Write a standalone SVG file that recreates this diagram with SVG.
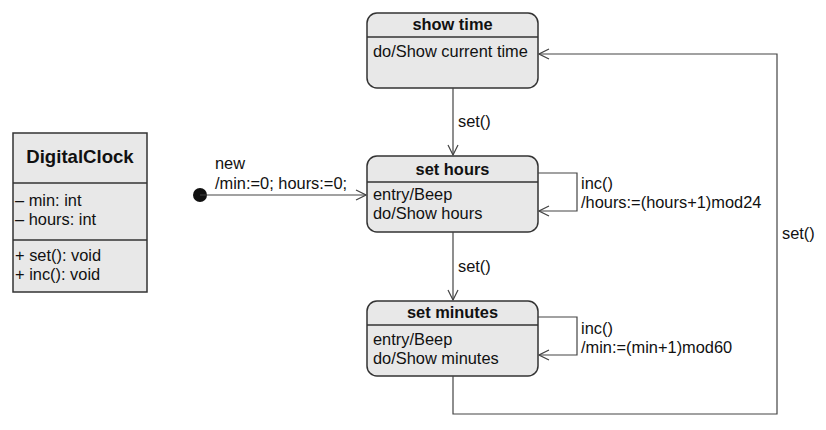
<svg xmlns="http://www.w3.org/2000/svg" width="826" height="430" viewBox="0 0 826 430">
<defs>
<marker id="open" viewBox="0 0 12 12" refX="11" refY="6" markerWidth="12" markerHeight="12" markerUnits="userSpaceOnUse" orient="auto">
<path d="M1,1 L11,6 L1,11" fill="none" stroke="#444" stroke-width="1.2"/>
</marker>
</defs>
<style>
.box{fill:#e8e8e8;stroke:#333;stroke-width:1.5}
.div{stroke:#333;stroke-width:1.5}
.t{font-family:"Liberation Sans",Arial,sans-serif;font-size:16.4px;fill:#111}
.b{font-weight:bold}
.c{text-anchor:middle}
.ln{fill:none;stroke:#444;stroke-width:1.2}
</style>
<rect width="826" height="430" fill="#fff"/>
<g id="class-digitalclock">
<rect class="box" x="13" y="133" width="134" height="159" rx="0"/>
<line class="div" x1="13" y1="183" x2="147" y2="183"/>
<line class="div" x1="13" y1="240" x2="147" y2="240"/>
<text class="t b c" x="80" y="163" style="font-size:18.6px">DigitalClock</text>
<text class="t" x="15" y="206">– min: int</text>
<text class="t" x="15" y="225">– hours: int</text>
<text class="t" x="15" y="261">+ set(): void</text>
<text class="t" x="15" y="280">+ inc(): void</text>
</g>
<g id="initial">
<circle cx="200" cy="195" r="7" fill="#111"/>
</g>
<g id="show-time">
<rect class="box" x="367" y="13" width="171" height="75" rx="10"/>
<line class="div" x1="367" y1="37" x2="538" y2="37"/>
<text class="t b c" x="452.5" y="30">show time</text>
<text class="t" x="373" y="57">do/Show current time</text>
</g>
<g id="set-hours">
<rect class="box" x="367" y="156" width="171" height="76" rx="10"/>
<line class="div" x1="367" y1="182" x2="538" y2="182"/>
<text class="t b c" x="452.5" y="175">set hours</text>
<text class="t" x="373" y="200">entry/Beep</text>
<text class="t" x="373" y="219">do/Show hours</text>
</g>
<g id="set-minutes">
<rect class="box" x="367" y="301" width="171" height="75" rx="10"/>
<line class="div" x1="367" y1="325" x2="538" y2="325"/>
<text class="t b c" x="452.5" y="318">set minutes</text>
<text class="t" x="373" y="345">entry/Beep</text>
<text class="t" x="373" y="364">do/Show minutes</text>
</g>
<g id="connectors">
<line class="ln" x1="200" y1="195" x2="366" y2="195" marker-end="url(#open)"/>
<line class="ln" x1="453" y1="88" x2="453" y2="155" marker-end="url(#open)"/>
<line class="ln" x1="453" y1="232" x2="453" y2="300" marker-end="url(#open)"/>
<polyline class="ln" points="538,173 577,173 577,211 539,211" marker-end="url(#open)"/>
<polyline class="ln" points="538,317 577,317 577,355 539,355" marker-end="url(#open)"/>
<polyline class="ln" points="453,376 453,414 777,414 777,54 539,54" marker-end="url(#open)"/>
<text class="t" x="215" y="169">new</text>
<text class="t" x="215" y="189">/min:=0; hours:=0;</text>
<text class="t" x="458" y="127">set()</text>
<text class="t" x="458" y="272">set()</text>
<text class="t" x="782" y="239">set()</text>
<text class="t" x="581" y="189">inc()</text>
<text class="t" x="581" y="208">/hours:=(hours+1)mod24</text>
<text class="t" x="581" y="334">inc()</text>
<text class="t" x="581" y="353">/min:=(min+1)mod60</text>
</g>
</svg>
